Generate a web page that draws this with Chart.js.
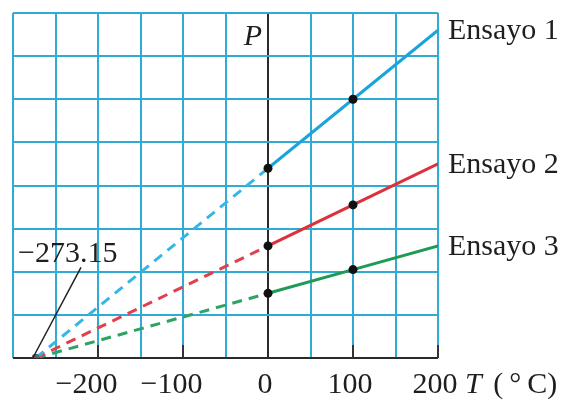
<!DOCTYPE html>
<html>
<head>
<meta charset="utf-8">
<script src="https://cdn.jsdelivr.net/npm/chart.js@4.4.1/dist/chart.umd.min.js"></script>
<style>
  body { margin: 0; background: #fff; }
  #wrap { width: 566px; height: 401px; }
</style>
</head>
<body>
<div id="wrap"><canvas id="gasChart" width="566" height="401"></canvas></div>
<script>
// Temperaturas (°C) y presiones
const temps = [-273.15, 0, 100, 200];
const ensayo1 = [0, 4.4, 6.0, 7.6];
const ensayo2 = [0, 2.6, 3.55, 4.5];
const ensayo3 = [0, 1.5, 2.05, 2.6];
const seriesNames = ['Ensayo 1', 'Ensayo 2', 'Ensayo 3'];
const tickLabels = [-200, -100, 0, 100, 200];
const zeroLabel = '\u2212273.15';
const zeroNote = { x: -220, y: 2.1 }; // donde empieza la línea de la nota

const gridBlue = '#30abd3';
const serif = '"Liberation Serif", "DejaVu Serif", serif';

function makeSeries(label, values, color, dashColor) {
    return {
        label: label,
        data: temps.map((t, i) => ({ x: t, y: values[i] })),
        borderColor: color,
        borderWidth: 3,
        segment: {
            borderDash: ctx => ctx.p1DataIndex <= 1 ? [10, 7] : undefined,
            borderColor: ctx => ctx.p1DataIndex <= 1 ? dashColor : color
        },
        pointRadius: [4, 4.5, 4.5, 0],
        pointBackgroundColor: ['rgba(90,90,90,0.8)', '#111', '#111', '#111'],
        pointBorderWidth: 0,
        tension: 0
    };
}

const datasets = [
    makeSeries(seriesNames[0], ensayo1, '#1ba4dc', '#35b6e6'),
    makeSeries(seriesNames[1], ensayo2, '#de2f3c', '#e0404c'),
    makeSeries(seriesNames[2], ensayo3, '#1c9a56', '#2ea363')
];

// Textos, marcas del eje y nota dibujados con las escalas del gráfico
const labelsPlugin = {
    id: 'labelsPlugin',
    afterDraw(chart) {
        const ctx = chart.ctx;
        const xs = chart.scales.x;
        const ys = chart.scales.y;
        const area = chart.chartArea;
        ctx.save();

        // pequeñas marcas sobre el eje T
        ctx.strokeStyle = '#333';
        ctx.lineWidth = 2;
        tickLabels.forEach(v => {
            if (v === 0) return;
            const px = xs.getPixelForValue(v);
            ctx.beginPath();
            ctx.moveTo(px, area.bottom);
            ctx.lineTo(px, area.bottom - 13);
            ctx.stroke();
        });

        // etiquetas del eje T
        ctx.fillStyle = '#1e1e1e';
        ctx.font = '30px ' + serif;
        ctx.textBaseline = 'alphabetic';
        ctx.textAlign = 'right';
        tickLabels.forEach(v => {
            const px = xs.getPixelForValue(v);
            const digits = String(Math.abs(v));
            const txt = (v < 0 ? '\u2212' : '') + digits;
            const w = ctx.measureText(digits).width;
            ctx.fillText(txt, px - 3 + w / 2, area.bottom + 35);
        });
        ctx.textAlign = 'left';
        const tx = xs.getPixelForValue(200) + 27;
        ctx.font = 'italic 30px ' + serif;
        ctx.fillText('T', tx, area.bottom + 35);
        const tw = ctx.measureText('T ').width;
        ctx.font = '30px ' + serif;
        ctx.fillText('(\u2009\u00B0\u2009C)', tx + tw + 4, area.bottom + 35);

        // P sobre el eje vertical
        ctx.font = 'italic 30px ' + serif;
        ctx.textAlign = 'right';
        ctx.fillText('P', xs.getPixelForValue(0) - 6, area.top + 32);

        // nombres de los ensayos al final de cada recta
        ctx.font = '30px ' + serif;
        ctx.textAlign = 'left';
        chart.data.datasets.forEach(ds => {
            const last = ds.data[ds.data.length - 1];
            ctx.fillText(ds.label, area.right + 10, ys.getPixelForValue(last.y) + 9);
        });

        // nota del cero absoluto
        const x0 = xs.getPixelForValue(temps[0]);
        const y0 = ys.getPixelForValue(0);
        const nx = xs.getPixelForValue(zeroNote.x);
        const ny = ys.getPixelForValue(zeroNote.y);
        ctx.strokeStyle = '#222';
        ctx.lineWidth = 1.5;
        ctx.beginPath();
        ctx.moveTo(nx, ny);
        ctx.lineTo(x0 - 3, y0);
        ctx.stroke();
        ctx.fillStyle = '#1e1e1e';
        ctx.font = '30px ' + serif;
        ctx.textAlign = 'left';
        ctx.fillText(zeroLabel, area.left + 5, ny - 5);

        ctx.restore();
    }
};

const gasChart = new Chart(document.getElementById('gasChart').getContext('2d'), {
    type: 'line',
    data: { datasets: datasets },
    options: {
        responsive: false,
        animation: false,
        layout: { padding: { left: 13, right: 128, top: 13, bottom: 43 } },
        plugins: {
            legend: { display: false },
            tooltip: { enabled: false }
        },
        scales: {
            x: {
                type: 'linear',
                min: -300,
                max: 200,
                ticks: { display: false, stepSize: 50 },
                border: { display: false },
                grid: {
                    drawTicks: false,
                    lineWidth: 2,
                    color: ctx => ctx.tick && ctx.tick.value === 0 ? '#2a2a2a' : gridBlue
                }
            },
            y: {
                min: 0,
                max: 8,
                ticks: { display: false, stepSize: 1 },
                border: { display: false },
                grid: {
                    drawTicks: false,
                    lineWidth: 2,
                    color: ctx => ctx.tick && ctx.tick.value === 0 ? '#2a2a2a' : gridBlue
                }
            }
        }
    },
    plugins: [labelsPlugin]
});
</script>
</body>
</html>
